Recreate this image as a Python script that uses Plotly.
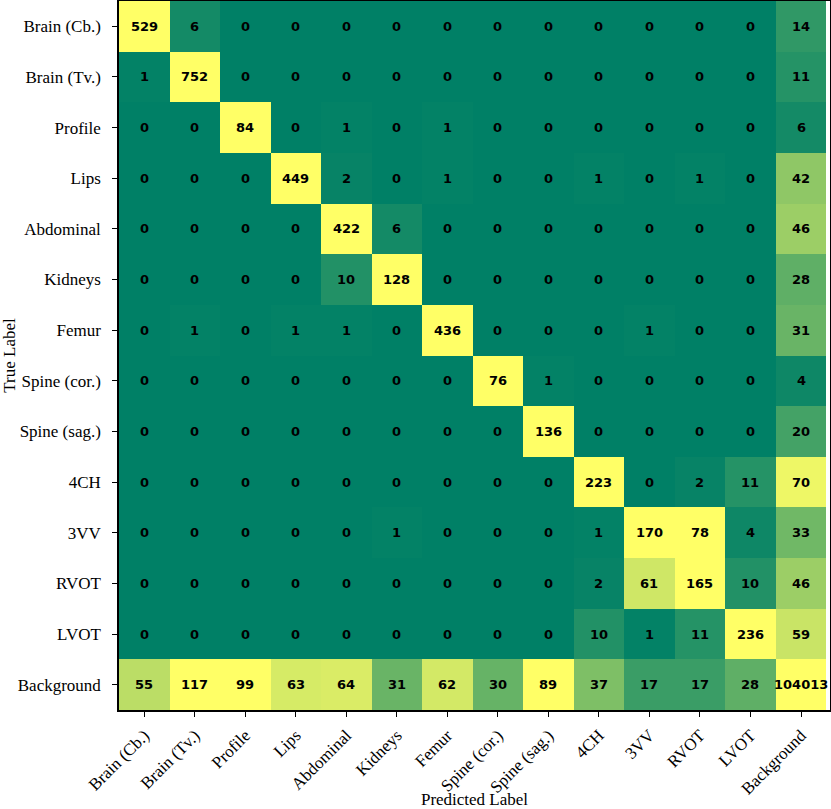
import plotly.graph_objects as go

# Class names (rows = true, columns = predicted)
labels = ['Brain (Cb.)', 'Brain (Tv.)', 'Profile', 'Lips', 'Abdominal', 'Kidneys',
          'Femur', 'Spine (cor.)', 'Spine (sag.)', '4CH', '3VV', 'RVOT', 'LVOT',
          'Background']

row_brain_cb = [529, 6, 0, 0, 0, 0, 0, 0, 0, 0, 0, 0, 0, 14]
row_brain_tv = [1, 752, 0, 0, 0, 0, 0, 0, 0, 0, 0, 0, 0, 11]
row_profile = [0, 0, 84, 0, 1, 0, 1, 0, 0, 0, 0, 0, 0, 6]
row_lips = [0, 0, 0, 449, 2, 0, 1, 0, 0, 1, 0, 1, 0, 42]
row_abdominal = [0, 0, 0, 0, 422, 6, 0, 0, 0, 0, 0, 0, 0, 46]
row_kidneys = [0, 0, 0, 0, 10, 128, 0, 0, 0, 0, 0, 0, 0, 28]
row_femur = [0, 1, 0, 1, 1, 0, 436, 0, 0, 0, 1, 0, 0, 31]
row_spine_cor = [0, 0, 0, 0, 0, 0, 0, 76, 1, 0, 0, 0, 0, 4]
row_spine_sag = [0, 0, 0, 0, 0, 0, 0, 0, 136, 0, 0, 0, 0, 20]
row_4ch = [0, 0, 0, 0, 0, 0, 0, 0, 0, 223, 0, 2, 11, 70]
row_3vv = [0, 0, 0, 0, 0, 1, 0, 0, 0, 1, 170, 78, 4, 33]
row_rvot = [0, 0, 0, 0, 0, 0, 0, 0, 0, 2, 61, 165, 10, 46]
row_lvot = [0, 0, 0, 0, 0, 0, 0, 0, 0, 10, 1, 11, 236, 59]
row_background = [55, 117, 99, 63, 64, 31, 62, 30, 89, 37, 17, 17, 28, 104013]

cm = [row_brain_cb, row_brain_tv, row_profile, row_lips, row_abdominal, row_kidneys,
      row_femur, row_spine_cor, row_spine_sag, row_4ch, row_3vv, row_rvot, row_lvot,
      row_background]

# colour scale saturates early so small confusions stay visible
COLOR_MAX = 75

summer = [[0.0, '#008066'], [1.0, '#ffff66']]

fig = go.Figure(go.Heatmap(
    z=cm, x=labels, y=labels,
    zmin=0, zmax=COLOR_MAX,
    colorscale=summer, showscale=False,
    hoverinfo='skip',
))

# cell counts as annotations so the wide background count can spill past the frame
for i, true_lbl in enumerate(labels):
    for j, pred_lbl in enumerate(labels):
        fig.add_annotation(
            x=pred_lbl, y=true_lbl, text=f'<b>{cm[i][j]}</b>',
            showarrow=False,
            font=dict(family='DejaVu Sans', size=13, color='black'),
        )

axis_font = dict(family='Liberation Serif', size=17, color='black')

fig.update_layout(
    width=831, height=809,
    paper_bgcolor='white', plot_bgcolor='white',
    margin=dict(l=119, r=1, t=1, b=99),
    xaxis=dict(
        title=dict(text='Predicted Label', font=axis_font),
        tickfont=axis_font, tickangle=-45, automargin=False,
        ticks='outside', ticklen=5, tickcolor='black', ticklabelstandoff=2,
        showline=True, linecolor='black', linewidth=1.5, mirror=True,
        showgrid=False, zeroline=False,
    ),
    yaxis=dict(
        title=dict(text='True Label', font=axis_font),
        tickfont=axis_font, autorange='reversed', automargin=False,
        ticks='outside', ticklen=5, tickcolor='black', ticklabelstandoff=8,
        showline=True, linecolor='black', linewidth=1.5, mirror=True,
        showgrid=False, zeroline=False,
    ),
)

# drop the default page margin so the figure fills the window
fig.write_html('out.html', config={'displayModeBar': False},
               post_script="document.body.style.margin='0';")
